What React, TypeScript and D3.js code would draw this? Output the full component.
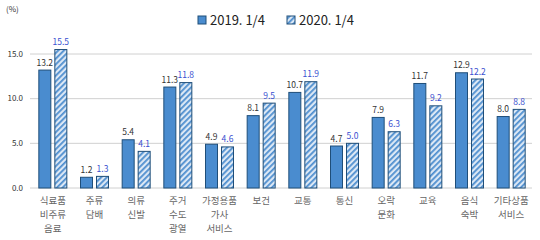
import * as d3 from 'd3';

const categories = [
  ['식료품', '비주류', '음료'],
  ['주류', '담배'],
  ['의류', '신발'],
  ['주거', '수도', '광열'],
  ['가정용품', '가사', '서비스'],
  ['보건'],
  ['교통'],
  ['통신'],
  ['오락', '문화'],
  ['교육'],
  ['음식', '숙박'],
  ['기타상품', '서비스'],
];
const values2019 = [13.2, 1.2, 5.4, 11.3, 4.9, 8.1, 10.7, 4.7, 7.9, 11.7, 12.9, 8.0];
const values2020 = [15.5, 1.3, 4.1, 11.8, 4.6, 9.5, 11.9, 5.0, 6.3, 9.2, 12.2, 8.8];
const seriesNames = ['2019. 1/4', '2020. 1/4'];
const yTicks = [0, 5, 10, 15];

const W = 540;
const H = 240;
const FONT = "'Noto Sans CJK KR', 'Noto Sans', sans-serif";

function App() {
  const x = d3.scaleBand<number>().domain(d3.range(categories.length)).range([32, 532]);
  const y = d3.scaleLinear().domain([0, 15]).range([188, 54]);
  const barW = 12;
  const gap = 2;

  return (
    <svg
      width={W}
      height={H}
      style={{position: 'absolute', left: 0, top: 0, background: '#fff'}}
      fontFamily={FONT}
    >
      <defs>
        <pattern id="hatch" width="4" height="4" patternUnits="userSpaceOnUse" patternTransform="rotate(45)">
          <rect width="4" height="4" fill="#dce8f5" />
          <rect width="1.8" height="4" fill="#4f8fcf" />
        </pattern>
      </defs>

      <text x={6} y={12} fontSize={8} fill="#333">(%)</text>

      {yTicks.map((t) => (
        <g key={t}>
          <line x1={30} x2={532} y1={y(t)} y2={y(t)} stroke="#d0d0d0" strokeWidth={1} />
          <text x={23} y={y(t)} dy="0.35em" textAnchor="end" fontSize={8} fill="#333">
            {t.toFixed(1)}
          </text>
        </g>
      ))}

      {categories.map((lines, i) => {
        const c = x(i)! + x.bandwidth() / 2;
        const a = values2019[i];
        const b = values2020[i];
        return (
          <g key={i}>
            <rect
              x={c - gap - barW}
              y={y(a)}
              width={barW}
              height={y(0) - y(a)}
              fill="#4a8ccf"
              stroke="#1f4e79"
              strokeWidth={1}
            />
            <rect
              x={c + gap}
              y={y(b)}
              width={barW}
              height={y(0) - y(b)}
              fill="url(#hatch)"
              stroke="#1f4e79"
              strokeWidth={1}
            />
            <text x={c - gap - barW / 2} y={y(a) - 4.5} textAnchor="middle" fontSize={8.5} fill="#333">
              {a.toFixed(1)}
            </text>
            <text x={c + gap + barW / 2} y={y(b) - 4.5} textAnchor="middle" fontSize={8.5} fill="#3a50d0">
              {b.toFixed(1)}
            </text>
            {lines.map((s, j) => (
              <text key={j} x={c} y={204 + j * 14} textAnchor="middle" fontSize={9.5} fill="#666">
                {s}
              </text>
            ))}
          </g>
        );
      })}

      <g transform="translate(198,16)">
        <rect x={0} y={0} width={8} height={8} fill="#4a8ccf" stroke="#1f4e79" />
        <text x={12} y={8.5} fontSize={13} fill="#222">{seriesNames[0]}</text>
        <rect x={89} y={0} width={8} height={8} fill="url(#hatch)" stroke="#1f4e79" />
        <text x={101} y={8.5} fontSize={13} fill="#222">{seriesNames[1]}</text>
      </g>
    </svg>
  );
}

export default App;
